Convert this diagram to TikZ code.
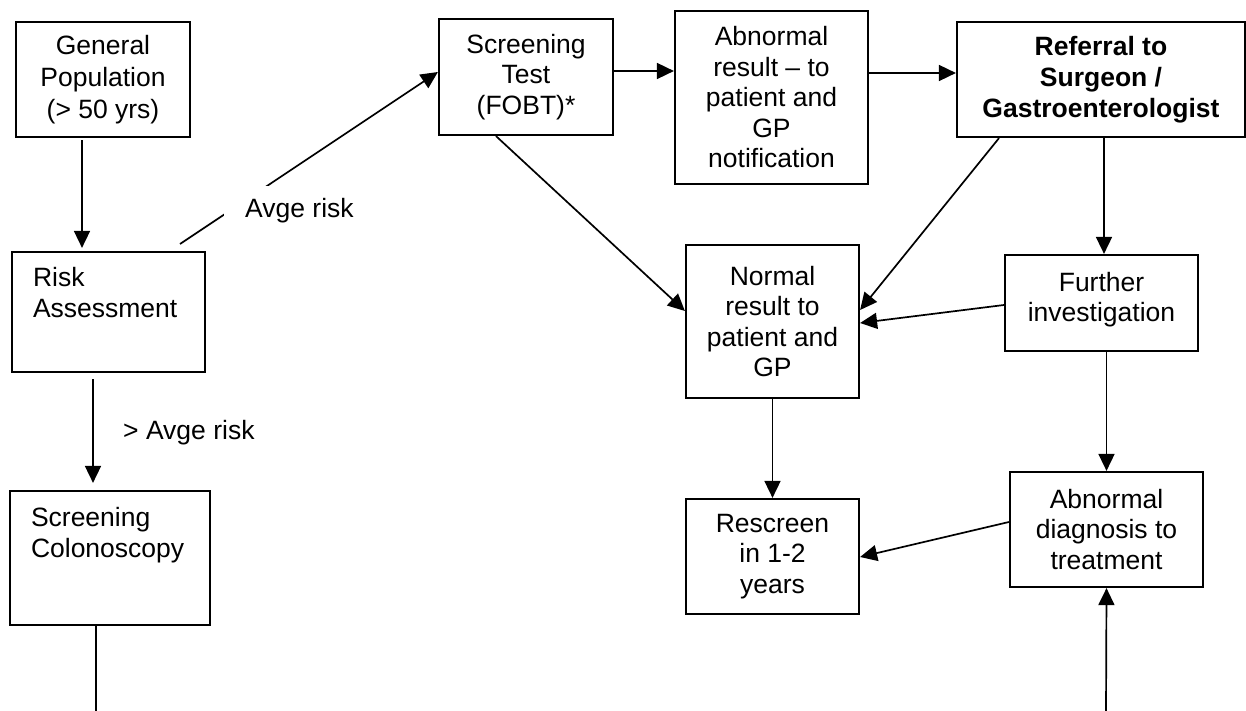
\documentclass[tikz,border=0pt]{standalone}
\usepackage{fontspec}
\setmainfont{Liberation Sans}
\usetikzlibrary{arrows.meta}
\begin{document}
\begin{tikzpicture}[x=1pt,y=-1pt,
  txtfont/.style={font=\fontsize{26.5}{30.5}\selectfont},
  box/.style={draw, line width=2.2pt, inner sep=0pt, align=center, txtfont},
  arr/.style={line width=1.7pt, -{Triangle[length=17pt,width=16pt]}},
  ln/.style={line width=1.7pt},
  lbl/.style={txtfont, inner sep=0pt}]
\useasboundingbox (0,0) rectangle (1246,711);

% nodes
\node[box, minimum width=174pt, minimum height=115pt, font=\fontsize{26.5}{32}\selectfont] (gp) at (103,79.5) {General\\Population\\(> 50 yrs)};
\node[box, minimum width=193pt, minimum height=120pt, text width=151pt, align=left] (risk) at (108.5,312) {Risk\\Assessment\\\strut};
\node[box, minimum width=200pt, minimum height=134pt, text width=158pt, align=left] (colon) at (110,558) {Screening\\Colonoscopy\\[12pt]\strut};
\node[box, minimum width=174pt, minimum height=116pt] (st) at (526,77) {Screening\\Test\\(FOBT)*};
\node[box, minimum width=193pt, minimum height=173pt] (ab) at (771.5,97.5) {Abnormal\\result \textendash{} to\\patient and\\GP\\notification};
\node[box, minimum width=288pt, minimum height=115pt, font=\fontsize{26.5}{31}\selectfont\bfseries] (ref) at (1101,79.5) {Referral to\\Surgeon /\\Gastroenterologist};
\node[box, minimum width=173pt, minimum height=153pt] (nor) at (772.5,321.5) {Normal\\result to\\patient and\\GP};
\node[box, minimum width=193pt, minimum height=96pt] (fur) at (1101.5,303) {Further\\investigation\\[-18pt]\mbox{}};
\node[box, minimum width=173pt, minimum height=115pt] (res) at (772.5,556.5) {Rescreen\\in 1-2\\years};
\node[box, minimum width=193pt, minimum height=115pt] (ad) at (1106.5,529.5) {Abnormal\\diagnosis to\\treatment};

% helper coordinates
\coordinate (avs) at (180,244);
\coordinate (bot1) at (96,711);
\coordinate (bot2) at (1106,711);
\coordinate (x82) at (82,0);
\coordinate (x93) at (93,0);
\coordinate (x96) at (96,0);
\coordinate (x496) at (496,0);
\coordinate (x999) at (999,0);
\coordinate (x1104) at (1104,0);
\coordinate (y71) at (0,71);
\coordinate (y73) at (0,73);
\coordinate (y305) at (0,305);
\coordinate (y310) at (0,310);
\coordinate (y311) at (0,311);
\coordinate (y323) at (0,323);
\coordinate (y522) at (0,522);
\coordinate (y557) at (0,557);

% connectors
\draw[arr, shorten <=2pt, shorten >=3pt] (gp.south -| x82) -- (risk.north -| x82);
\draw[arr] (avs) -- ([yshift=5pt]st.west);
\node[lbl, fill=white, anchor=north west, inner xsep=21pt, inner ysep=12pt] (avl) at (224,186) {Avge risk};
\draw[arr] (st.east |- y71) -- (ab.west |- y71);
\draw[arr] (ab.east |- y73) -- (ref.west |- y73);
\draw[arr] (st.south -| x496) -- (nor.west |- y311);
\draw[arr] (ref.south -| x999) -- (nor.east |- y310);
\draw[arr] (fur.west |- y305) -- (nor.east |- y323);
\draw[arr] (ref.south -| x1104) -- (fur.north -| x1104);
\draw[arr] (nor.south) -- (res.north);
\draw[arr] (fur.south -| ad.north) -- (ad.north);
\draw[arr] (ad.west |- y522) -- (res.east |- y557);
\draw[arr] (bot2) -- (ad.south);
\draw[arr, shorten <=6pt, shorten >=7pt] (risk.south -| x93) -- (colon.north -| x93);
\node[lbl, anchor=west] (gtl) at (123,433) {> Avge risk};
\draw[ln] (colon.south -| x96) -- (bot1);
\end{tikzpicture}
\end{document}
